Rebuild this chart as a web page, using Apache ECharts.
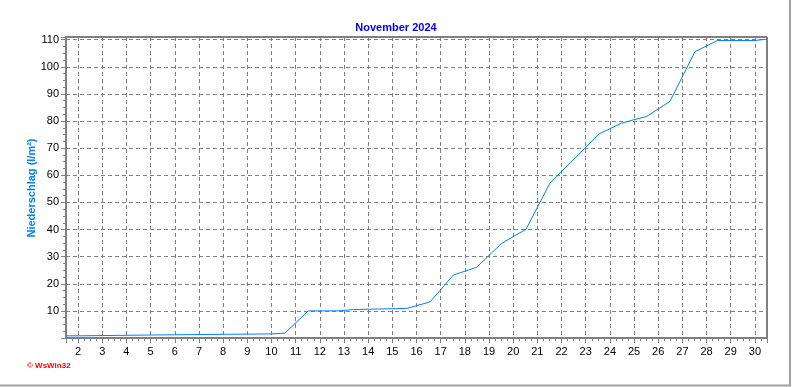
<!DOCTYPE html>
<html>
<head>
<meta charset="utf-8">
<script src="https://cdn.jsdelivr.net/npm/echarts@6/dist/echarts.min.js"></script>
<style>html,body{margin:0;padding:0;background:#fff;}#c{width:792px;height:387px;}</style>
</head>
<body>
<div id="c"></div>
<script>
const titleText = 'November 2024';
const yAxisName = 'Niederschlag (l/m²)';
const watermark = '© WsWin32';
// [day, cumulative precipitation l/m²]
const days = [1.5, 2.0, 2.0, 6.0, 6.0, 10.0, 10.0, 10.56, 11.52, 12.72, 12.72, 13.07, 13.07, 13.39, 13.39, 15.59, 16.0, 16.56, 17.52, 18.49, 19.52, 20.53, 21.52, 23.56, 24.48, 24.96, 25.52, 26.48, 27.52, 28.0, 28.44, 30.0, 30.0, 30.5];
const values = [0.8, 0.8, 1.2, 1.2, 1.5, 1.5, 1.8, 1.8, 10.0, 10.0, 10.2, 10.2, 10.5, 10.5, 10.9, 10.9, 11.9, 13.3, 23.2, 26.1, 34.9, 40.1, 57.1, 75.3, 79.2, 80.4, 81.7, 87.2, 105.6, 107.7, 109.7, 109.7, 110.2, 110.2];
const xMin = 1.5, xMax = 30.5;
const yMin = 0, yMax = 111, yInterval = 10;

const data = days.map((d, i) => [d, values[i]]);
const chart = echarts.init(document.getElementById('c'), null, {renderer: 'canvas'});
const font = 'Liberation Sans, Arial, sans-serif';
chart.setOption({
  animation: false,
  backgroundColor: '#fff',
  title: {
    text: titleText, left: 'center', top: 17,
    textStyle: {color: '#0000FF', fontSize: 11, fontWeight: 'bold', fontFamily: font}
  },
  grid: {left: 66, right: 25, top: 37, bottom: 49, show: true, borderColor: '#000', borderWidth: 1, backgroundColor: 'transparent'},
  xAxis: {
    type: 'value', min: xMin, max: xMax, splitNumber: 29,
    axisLine: {show: true, onZero: false, lineStyle: {color: '#808080', width: 2}},
    axisTick: {show: true, length: 5, lineStyle: {color: '#808080'}},
    minorTick: {show: true, splitNumber: 4, length: 3, lineStyle: {color: '#808080'}},
    axisLabel: {color: '#000', fontSize: 11, fontFamily: font, margin: 8, showMinLabel: false, showMaxLabel: false},
    splitLine: {show: true, lineStyle: {color: '#808080', type: [4, 3], width: 1}}
  },
  yAxis: {
    type: 'value', min: yMin, max: yMax, interval: yInterval,
    axisLine: {show: true, lineStyle: {color: '#808080', width: 2}},
    axisTick: {show: true, length: 5, lineStyle: {color: '#808080'}},
    minorTick: {show: true, splitNumber: 4, length: 3, lineStyle: {color: '#808080'}},
    axisLabel: {color: '#000', fontSize: 11, fontFamily: font, margin: 7, showMinLabel: false, showMaxLabel: false},
    splitLine: {show: true, lineStyle: {color: '#808080', type: [4, 3], width: 1}}
  },
  series: [{
    type: 'line', data: data, showSymbol: false, symbol: 'none',
    lineStyle: {color: '#0080FF', width: 1}, clip: true
  }],
  graphic: [
    {type: 'text', x: 32, y: 188, rotation: Math.PI / 2,
     style: {text: yAxisName, fill: '#0080FF', font: 'bold 11px ' + font, align: 'center', verticalAlign: 'middle'}},
    {type: 'text', left: 27, top: 362, style: {text: watermark, fill: '#FF0000', font: 'bold 8px ' + font}},
    {type: 'line', shape: {x1: 790, y1: 0, x2: 790, y2: 386}, style: {stroke: '#A0A0A0', lineWidth: 2}},
    {type: 'line', shape: {x1: 0, y1: 385.5, x2: 791, y2: 385.5}, style: {stroke: '#A0A0A0', lineWidth: 2}}
  ]
});
</script>
</body>
</html>
